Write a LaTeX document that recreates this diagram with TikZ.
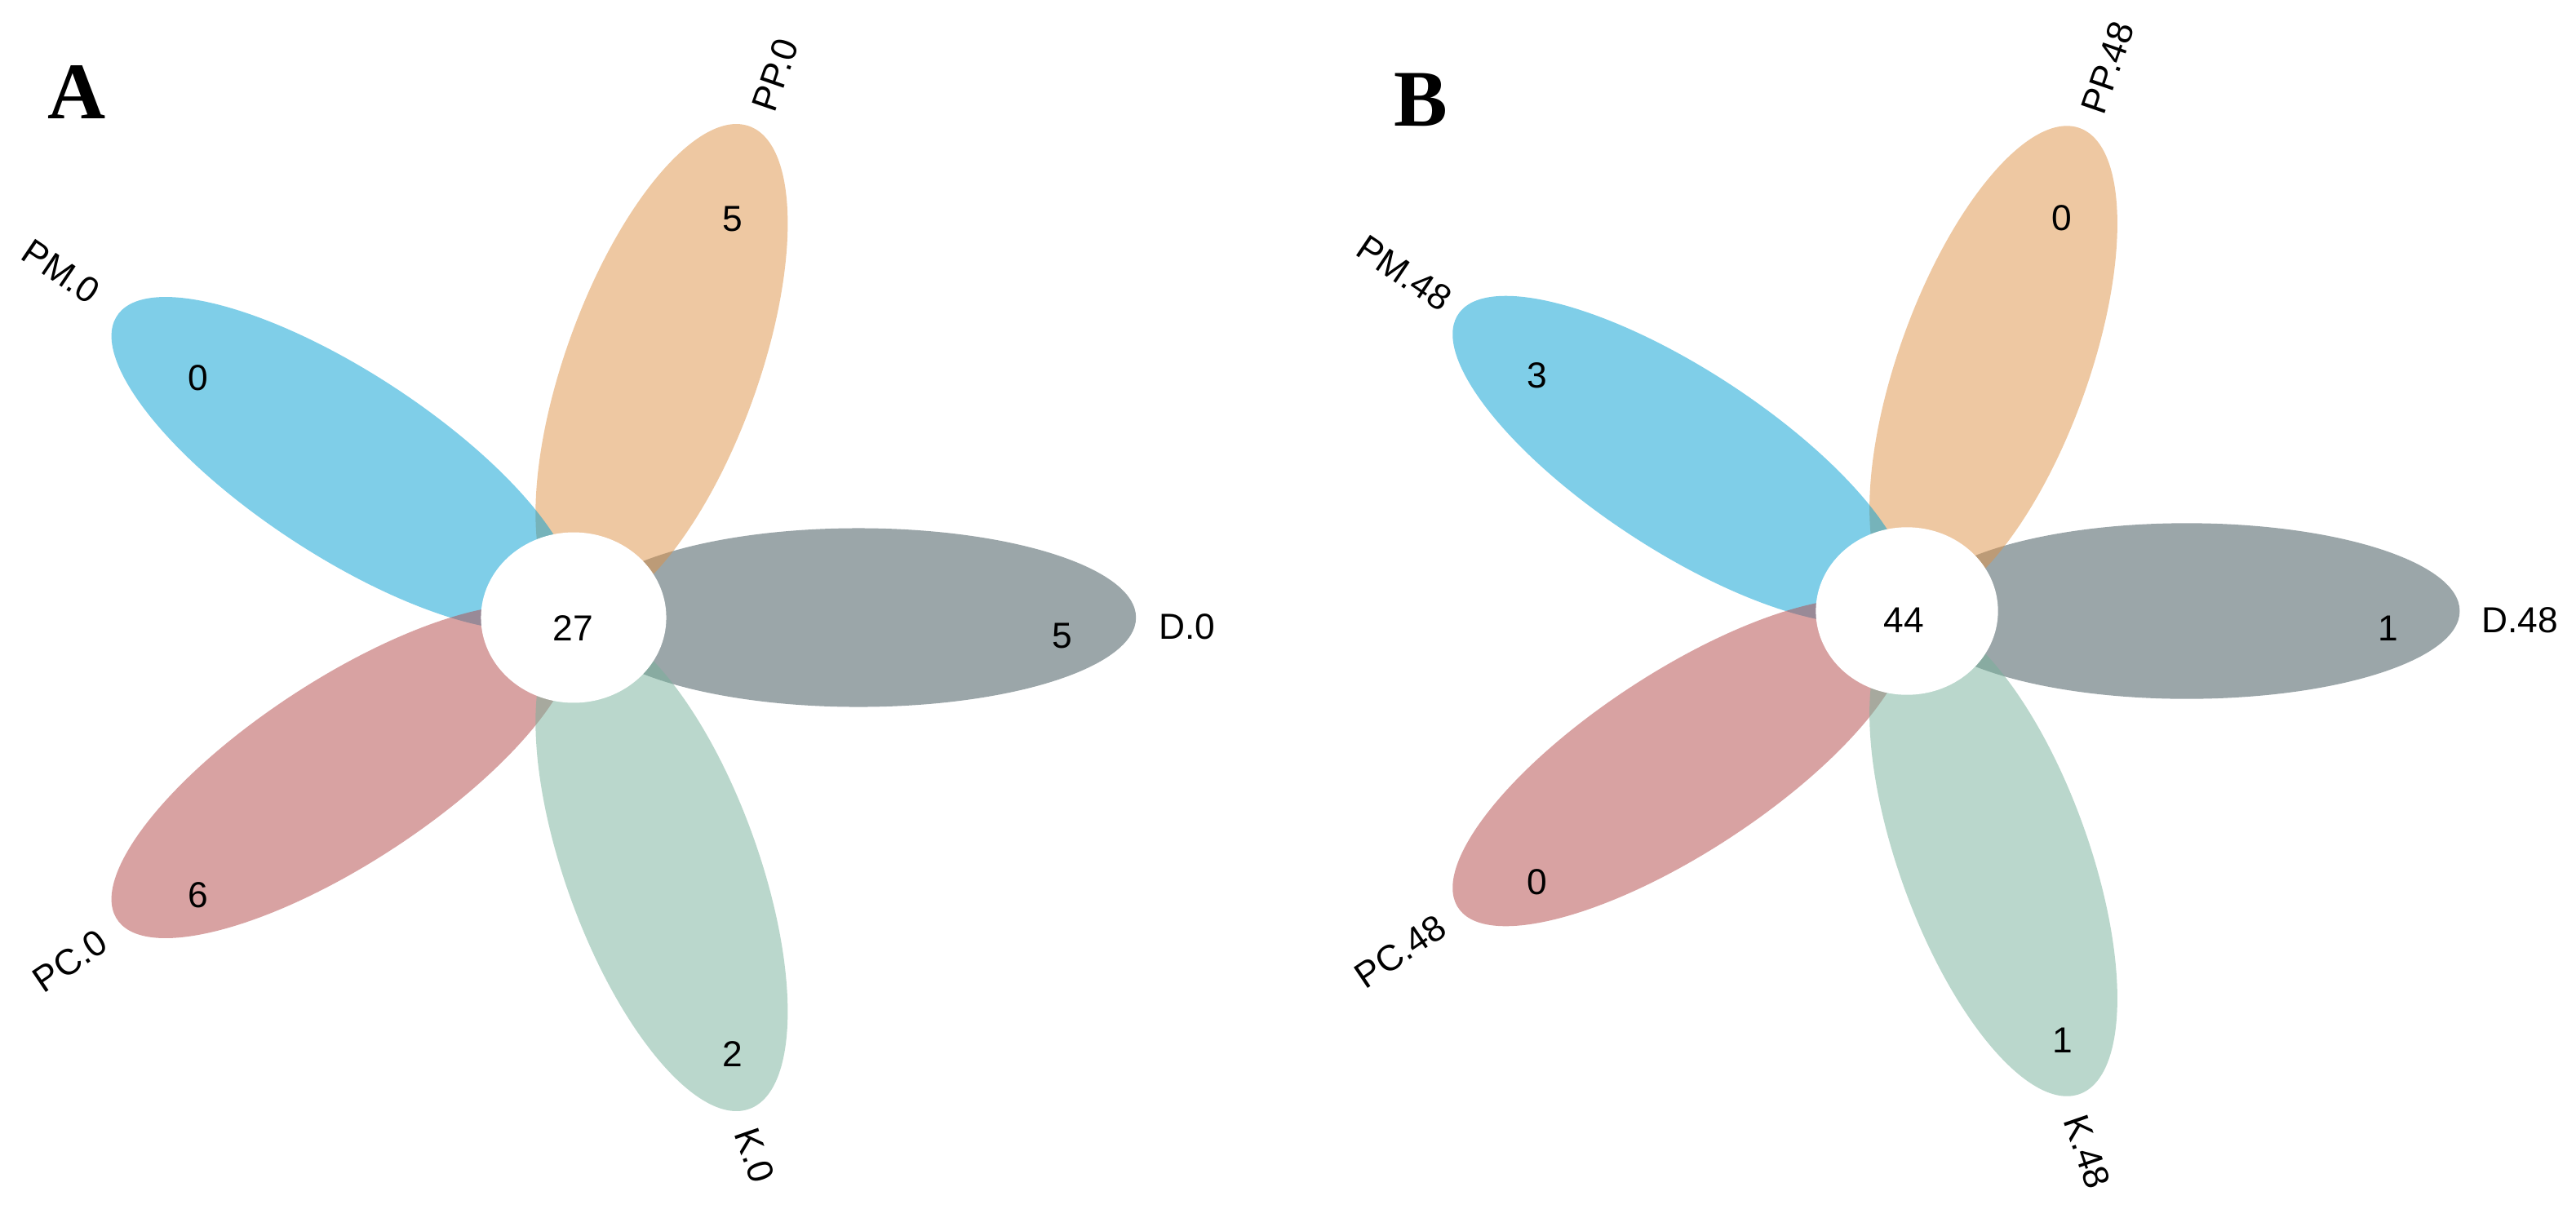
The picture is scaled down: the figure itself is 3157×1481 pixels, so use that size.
\documentclass[tikz,border=0pt]{standalone}
\usepackage{fontspec}
\setmainfont{Liberation Sans}
\newfontfamily\panelfont{Liberation Serif}
\definecolor{cD}{RGB}{57,79,85}
\definecolor{cPP}{RGB}{222,146,70}
\definecolor{cPM}{RGB}{0,159,210}
\definecolor{cPC}{RGB}{179,71,71}
\definecolor{cK}{RGB}{119,177,155}
\begin{document}
\begin{tikzpicture}[x=0.01cm,y=-0.01cm,
  petal/.style={fill opacity=0.5},
  num/.style={font=\fontsize{12.6}{15}\selectfont, inner sep=0pt},
  lab/.style={font=\fontsize{12.6}{15}\selectfont, inner sep=0pt},
  panel/.style={font=\panelfont\bfseries\fontsize{28}{32}\selectfont, inner sep=0pt}]
\useasboundingbox[fill=white] (0,0) rectangle (3157,1481);

% ---------- Panel A ----------
\begin{scope}[shift={(703,757)}, yscale=0.92]
  \foreach \ang/\col in {0/cD,72/cPP,144/cPM,216/cPC,288/cK}
    \fill[\col, petal, rotate=\ang] (349,0) ellipse [x radius=3.40cm, y radius=1.19cm];
  \fill[white] (0,0) ellipse [x radius=1.135cm, y radius=1.135cm];
\end{scope}
\node[panel] (lA) at (94,113) {A};
\node[lab, rotate=71] (lPPa) at (950,92) {PP.0};
\node[lab, rotate=-34] (lPMa) at (75,333) {PM.0};
\node[lab] (lDa) at (1455,768) {D.0};
\node[lab, rotate=34] (lPCa) at (86,1178) {PC.0};
\node[lab, rotate=-71] (lKa) at (925,1416) {K.0};
\node[num] (nCa) at (702,770) {27};
\node[num] (nDa) at (1302,779) {5};
\node[num] (nPPa) at (898,268) {5};
\node[num] (nPMa) at (243,463) {0};
\node[num] (nPCa) at (243,1097) {6};
\node[num] (nKa) at (898,1292) {2};

% ---------- Panel B ----------
\begin{scope}[shift={(2337,749)}, scale=0.983, yscale=0.92]
  \foreach \ang/\col in {0/cD,72/cPP,144/cPM,216/cPC,288/cK}
    \fill[\col, petal, rotate=\ang] (349,0) ellipse [x radius=3.40cm, y radius=1.19cm];
  \fill[white] (0,0) ellipse [x radius=1.135cm, y radius=1.135cm];
\end{scope}
\node[panel] (lB) at (1741,122) {B};
\node[lab, rotate=71] (lPPb) at (2583,83) {PP.48};
\node[lab, rotate=-34] (lPMb) at (1721,335) {PM.48};
\node[lab] (lDb) at (3088,760) {D.48};
\node[lab, rotate=34] (lPCb) at (1716,1166) {PC.48};
\node[lab, rotate=-71] (lKb) at (2558,1412) {K.48};
\node[num] (nCb) at (2333,760) {44};
\node[num] (nDb) at (2927,770) {1};
\node[num] (nPPb) at (2527,267) {0};
\node[num] (nPMb) at (1884,460) {3};
\node[num] (nPCb) at (1884,1081) {0};
\node[num] (nKb) at (2528,1275) {1};
\end{tikzpicture}
\end{document}
